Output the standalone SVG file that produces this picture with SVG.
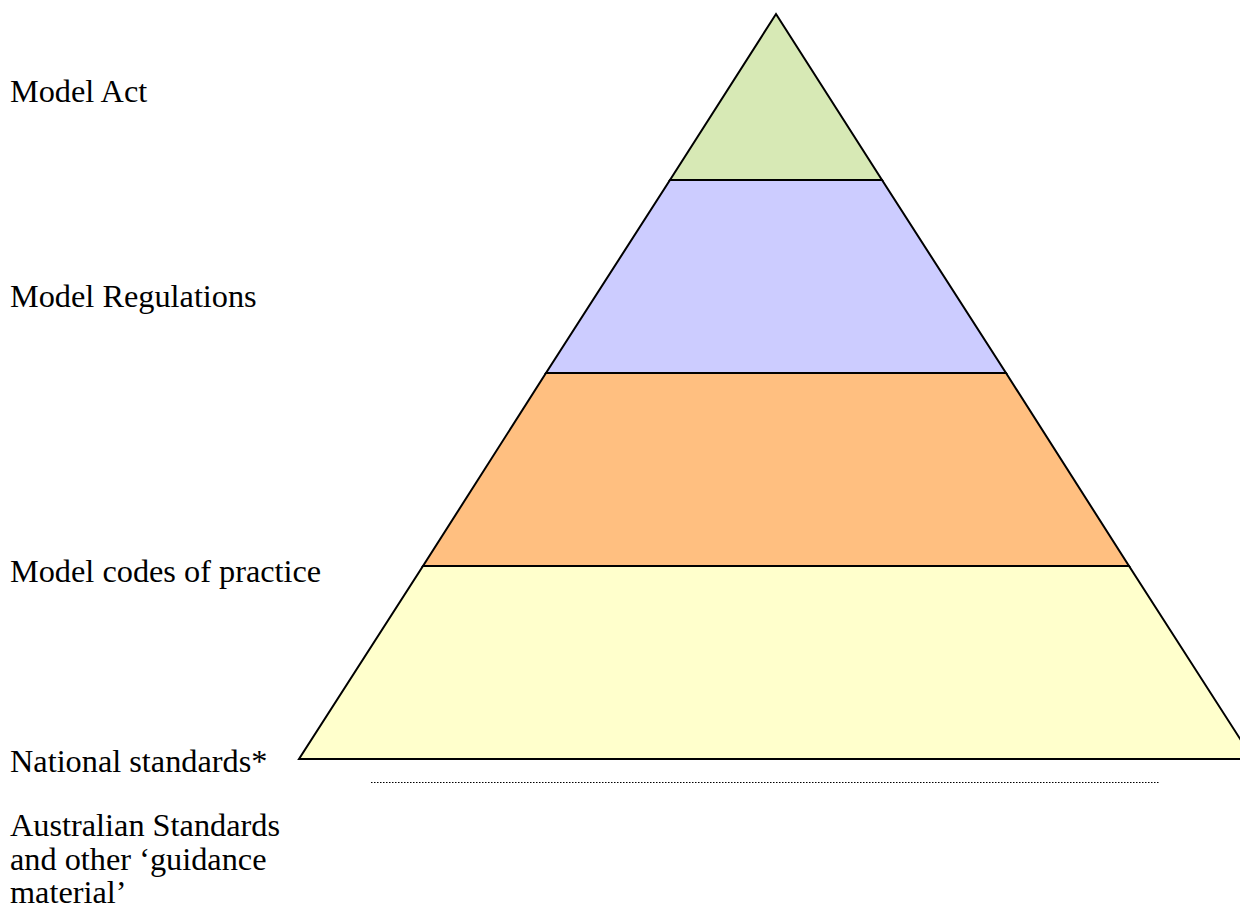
<svg xmlns="http://www.w3.org/2000/svg" width="1240" height="909" viewBox="0 0 1240 909">
  <style>
    .lbl { font-family: "Liberation Serif", "Times New Roman", serif; font-size: 32.3px; fill: #000; }
    .tier { stroke: #000; stroke-width: 2; stroke-linejoin: miter; }
  </style>
  <rect width="1240" height="909" fill="#fff"/>
  <!-- pyramid tiers, apex (776,14), base y=759 -->
  <g id="tier-act">
    <polygon class="tier" fill="#d7e9b5" points="776,14 882,180 670,180"/>
  </g>
  <g id="tier-regulations">
    <polygon class="tier" fill="#ccccff" points="670,180 882,180 1006,373 546,373"/>
  </g>
  <g id="tier-codes">
    <polygon class="tier" fill="#ffbf80" points="546,373 1006,373 1129,566 423,566"/>
  </g>
  <g id="tier-standards">
    <polygon class="tier" fill="#ffffcc" points="423,566 1129,566 1253,759 299,759"/>
  </g>
  <g id="connectors">
    <line x1="371" y1="782.5" x2="1160" y2="782.5" stroke="#000" stroke-width="1" stroke-dasharray="1.5,1.5"/>
  </g>
  <g id="labels">
    <text class="lbl" x="10" y="102">Model Act</text>
    <text class="lbl" x="10" y="307">Model Regulations</text>
    <text class="lbl" x="10" y="582">Model codes of practice</text>
    <text class="lbl" x="10" y="772">National standards*</text>
    <text class="lbl" x="10" y="836">Australian Standards</text>
    <text class="lbl" x="10" y="870">and other ‘guidance</text>
    <text class="lbl" x="10" y="903">material’</text>
  </g>
</svg>
